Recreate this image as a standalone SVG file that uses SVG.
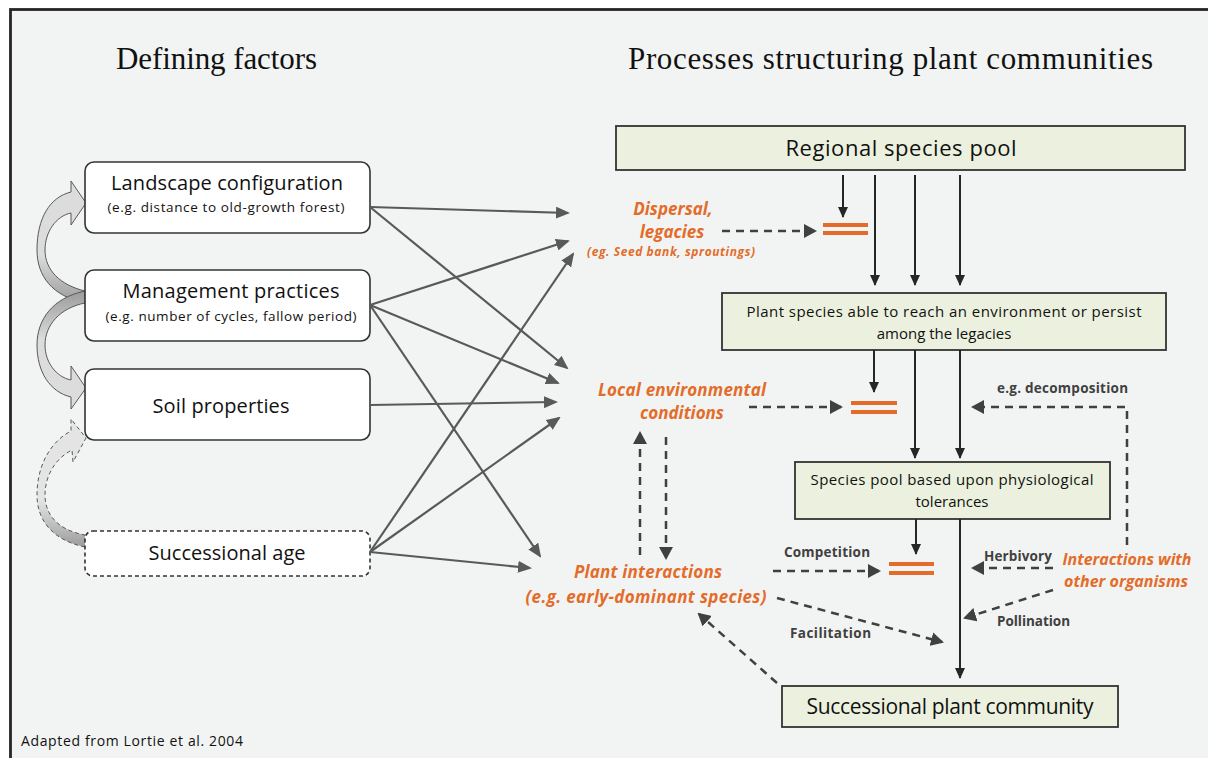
<svg xmlns="http://www.w3.org/2000/svg" width="1208" height="758" viewBox="0 0 1208 758">
<defs>
<style>
.frame{fill:#f2f4f3;stroke:#262626;stroke-width:2.8}
.title{font-family:"Liberation Serif",serif;font-size:31px;fill:#111}
.lbox{fill:#fff;stroke:#333;stroke-width:1.6}
.gbox{fill:#ebf1de;stroke:#333;stroke-width:1.8}
.t{font-family:"Open Sans","Liberation Sans",sans-serif;fill:#111;text-anchor:middle}
.or{font-family:"Open Sans","Liberation Sans",sans-serif;font-weight:bold;font-style:italic;fill:#e36c2a;text-anchor:middle}
.gl{font-family:"Open Sans","Liberation Sans",sans-serif;font-weight:bold;fill:#404040;font-size:13.5px}
.gc{fill:none;stroke:#595959;stroke-width:2.2;marker-end:url(#mg)}
.dk{fill:none;stroke:#262626;stroke-width:2;marker-end:url(#md)}
.ds{fill:none;stroke:#404040;stroke-width:2.5;stroke-dasharray:8 6}
.dsa{marker-end:url(#mds)}
.eq{fill:#e36c2a}
.ca{stroke:#595959;stroke-width:1}
</style>
<marker id="mg" markerUnits="userSpaceOnUse" markerWidth="14" markerHeight="12" refX="12" refY="6" orient="auto"><path d="M0,0 L14,6 L0,12 z" fill="#595959"/></marker>
<marker id="md" markerUnits="userSpaceOnUse" markerWidth="11" markerHeight="10" refX="10" refY="5" orient="auto"><path d="M0,0 L11,5 L0,10 z" fill="#262626"/></marker>
<marker id="mds" markerUnits="userSpaceOnUse" markerWidth="13" markerHeight="14" refX="11" refY="7" orient="auto"><path d="M0,0 L13,7 L0,14 z" fill="#404040"/></marker>
<linearGradient id="g1" gradientUnits="userSpaceOnUse" x1="0" y1="300" x2="0" y2="255"><stop offset="0" stop-color="#a0a0a0"/><stop offset="1" stop-color="#dcdcdc"/></linearGradient>
<linearGradient id="g2" gradientUnits="userSpaceOnUse" x1="0" y1="295" x2="0" y2="340"><stop offset="0" stop-color="#a0a0a0"/><stop offset="1" stop-color="#dcdcdc"/></linearGradient>
<linearGradient id="g3" gradientUnits="userSpaceOnUse" x1="0" y1="545" x2="0" y2="500"><stop offset="0" stop-color="#a0a0a0"/><stop offset="1" stop-color="#e4e4e4"/></linearGradient>
</defs>
<rect x="0" y="0" width="1208" height="758" fill="#fff"/>
<rect class="frame" x="10.5" y="9.5" width="1210" height="760"/>
<text class="title" x="116" y="69" textLength="201">Defining factors</text>
<text class="title" x="628" y="69" textLength="525">Processes structuring plant communities</text>

<g id="curved-arrows">
<path class="ca" fill="url(#g1)" d="M85,303 C52,296 37,276 37,250 C37,218 50,197 71,192 L71,181 L86,203 L71,225 L71,213 C56,216 45,232 45,250 C45,270 60,285 85,291 Z"/>
<path class="ca" fill="url(#g2)" d="M85,291 C52,298 37,320 37,345 C37,372 50,392 71,397 L71,409 L86,388 L71,366 L71,380 C56,377 45,362 45,345 C45,325 60,308 85,303 Z"/>
<path class="ca" fill="url(#g3)" stroke-dasharray="4 3" d="M85,547 C52,540 37,520 37,495 C37,466 50,442 71,431 L71,419 L86,438 L73,462 L72,450 C56,458 45,475 45,495 C45,515 58,530 85,535 Z"/>
</g>

<g id="landscape">
<rect class="lbox" x="85" y="162" width="285" height="71" rx="9"/>
<text class="t" x="227" y="190" font-size="20" textLength="232">Landscape configuration</text>
<text class="t" x="226" y="212" font-size="13.5" textLength="237">(e.g. distance to old-growth forest)</text>
</g>
<g id="management">
<rect class="lbox" x="85" y="270" width="285" height="71" rx="9"/>
<text class="t" x="231" y="298" font-size="20" textLength="217">Management practices</text>
<text class="t" x="231" y="321" font-size="13.5" textLength="251">(e.g. number of cycles, fallow period)</text>
</g>
<g id="soil">
<rect class="lbox" x="85" y="369" width="285" height="71" rx="9"/>
<text class="t" x="221" y="413" font-size="20" textLength="137">Soil properties</text>
</g>
<g id="successional-age">
<rect class="lbox" x="85" y="531" width="285" height="45" rx="8" stroke-dasharray="4 3" stroke-width="1.3"/>
<text class="t" x="227" y="560" font-size="20" textLength="157">Successional age</text>
</g>

<g id="regional-pool">
<rect class="gbox" x="616" y="126" width="569" height="44"/>
<text class="t" x="901" y="156" font-size="22" textLength="231">Regional species pool</text>
</g>
<g id="plant-species">
<rect class="gbox" x="722" y="293" width="444" height="57"/>
<text class="t" x="944" y="317" font-size="15" textLength="395">Plant species able to reach an environment or persist</text>
<text class="t" x="944" y="339" font-size="15">among the legacies</text>
</g>
<g id="species-pool">
<rect class="gbox" x="795" y="462" width="315" height="57"/>
<text class="t" x="952" y="485" font-size="15" textLength="283">Species pool based upon physiological</text>
<text class="t" x="952" y="507" font-size="15">tolerances</text>
</g>
<g id="successional-community">
<rect class="gbox" x="782" y="686" width="336" height="41"/>
<text class="t" x="950" y="714" font-size="21" textLength="287">Successional plant community</text>
</g>

<g id="dispersal">
<text class="or" x="673" y="215" font-size="17">Dispersal,</text>
<text class="or" x="672" y="238" font-size="17">legacies</text>
<text class="or" x="671" y="256" font-size="12" textLength="168">(eg. Seed bank, sproutings)</text>
</g>
<g id="local-env">
<text class="or" x="682" y="396" font-size="17" textLength="168">Local environmental</text>
<text class="or" x="682" y="419" font-size="17">conditions</text>
</g>
<g id="plant-interactions">
<text class="or" x="648" y="578" font-size="17" textLength="148">Plant interactions</text>
<text class="or" x="646" y="603" font-size="17" textLength="241">(e.g. early-dominant species)</text>
</g>
<g id="other-organisms">
<text class="or" x="1127" y="565" font-size="16" textLength="129">Interactions with</text>
<text class="or" x="1126" y="587" font-size="16" textLength="124">other organisms</text>
</g>

<g id="filters">
<rect class="eq" x="823" y="223" width="45" height="4"/>
<rect class="eq" x="823" y="231" width="45" height="4"/>
<rect class="eq" x="851" y="401" width="46" height="4"/>
<rect class="eq" x="851" y="410" width="46" height="4"/>
<rect class="eq" x="889" y="562" width="45" height="4"/>
<rect class="eq" x="889" y="571" width="45" height="4"/>
</g>

<g id="labels">
<text class="gl" x="997" y="393" textLength="131">e.g. decomposition</text>
<text class="gl" x="784" y="557" textLength="86">Competition</text>
<text class="gl" x="984" y="561" textLength="68">Herbivory</text>
<text class="gl" x="997" y="626" textLength="73">Pollination</text>
<text class="gl" x="790" y="638" textLength="81">Facilitation</text>
</g>

<g id="connectors">
<line class="gc" x1="370" y1="207" x2="568" y2="213"/>
<line class="gc" x1="370" y1="207" x2="567" y2="368"/>
<line class="gc" x1="370" y1="305" x2="568" y2="241"/>
<line class="gc" x1="370" y1="305" x2="558" y2="383"/>
<line class="gc" x1="370" y1="305" x2="540" y2="556"/>
<line class="gc" x1="370" y1="405" x2="556" y2="402"/>
<line class="gc" x1="370" y1="552" x2="573" y2="254"/>
<line class="gc" x1="370" y1="552" x2="559" y2="418"/>
<line class="gc" x1="370" y1="552" x2="530" y2="568"/>

<line class="dk" x1="843" y1="175" x2="843" y2="217"/>
<line class="dk" x1="875" y1="175" x2="875" y2="285"/>
<line class="dk" x1="915" y1="175" x2="915" y2="285"/>
<line class="dk" x1="960" y1="175" x2="960" y2="285"/>
<line class="dk" x1="874" y1="350" x2="874" y2="392"/>
<line class="dk" x1="915" y1="350" x2="915" y2="458"/>
<line class="dk" x1="960" y1="350" x2="960" y2="458"/>
<line class="dk" x1="916" y1="519" x2="916" y2="554"/>
<line class="dk" x1="960" y1="519" x2="960" y2="678"/>

<line class="ds dsa" x1="722" y1="231" x2="815" y2="231"/>
<line class="ds dsa" x1="749" y1="407" x2="841" y2="407"/>
<polyline class="ds dsa" points="1127,545 1127,407 973,407"/>
<line class="ds dsa" x1="640" y1="555" x2="640" y2="433"/>
<line class="ds dsa" x1="666" y1="437" x2="666" y2="558"/>
<line class="ds dsa" x1="773" y1="571" x2="879" y2="571"/>
<line class="ds dsa" x1="1053" y1="568" x2="973" y2="568"/>
<line class="ds dsa" x1="1053" y1="590" x2="965" y2="618"/>
<line class="ds dsa" x1="777" y1="598" x2="942" y2="642"/>
<line class="ds dsa" x1="777" y1="683" x2="699" y2="614"/>
</g>

<text x="21" y="746" font-family="Open Sans,Liberation Sans,sans-serif" font-size="14" fill="#111" textLength="222">Adapted from Lortie et al. 2004</text>
</svg>
